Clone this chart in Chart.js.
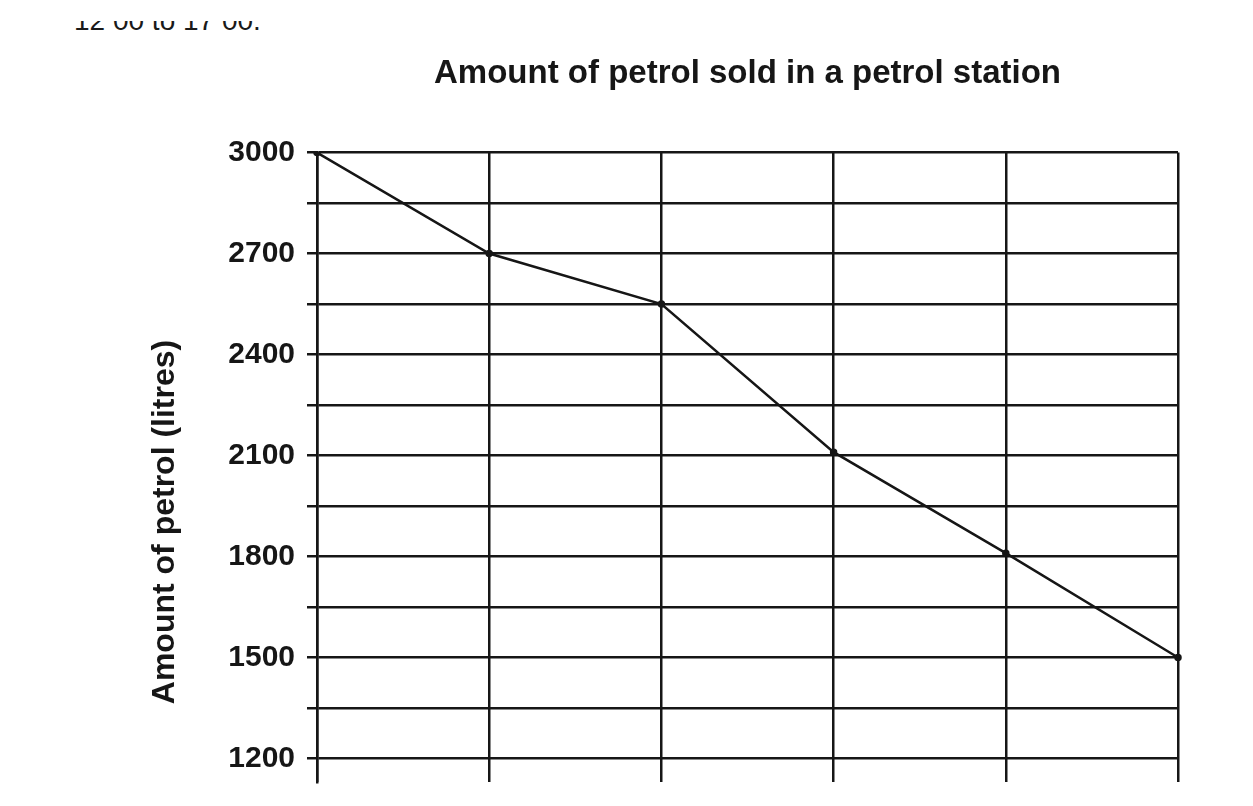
<!DOCTYPE html>
<html>
<head>
<meta charset="utf-8">
<title>Amount of petrol sold in a petrol station</title>
<script src="https://cdn.jsdelivr.net/npm/chart.js@4.4.1/dist/chart.umd.min.js"></script>
<style>
    html, body { margin: 0; padding: 0; background: #fff; overflow: hidden; }
    #wrap { position: relative; width: 1253px; height: 806px; }
    #chart { position: absolute; left: 0; top: 0; }
    /* the scan starts half way through this line of text */
    #cutLine { position: absolute; left: 74px; top: 21px; height: 11px; width: 260px; overflow: hidden; }
    #cutLine span { position: absolute; left: 0; top: -14px; font: 28px "Liberation Sans", Arial, sans-serif; line-height: 28px; color: #1a1a1a; white-space: pre; }
</style>
</head>
<body>
<div id="wrap">
    <div id="cutLine"><span>12 00 to 17 00.</span></div>
    <canvas id="chart" width="1253" height="806"></canvas>
</div>
<script>
// hours of the day (x categories)
const hours = ['12:00', '13:00', '14:00', '15:00', '16:00', '17:00'];
// litres of petrol left in the tank
const petrol = [3000, 2700, 2550, 2110, 1810, 1500];
// horizontal grid lines and the ones that carry a label
const gridValues = [1200, 1350, 1500, 1650, 1800, 1950, 2100, 2250, 2400, 2550, 2700, 2850, 3000];
const labelValues = [1200, 1500, 1800, 2100, 2400, 2700, 3000];

const chartTitle = 'Amount of petrol sold in a petrol station';
const yTitle = 'Amount of petrol (litres)';

const FONT = '"Liberation Sans", Arial, sans-serif';
const INK = '#161616';

// y axis title sits a little below the middle of the axis in the original
const yTitlePlugin = {
    id: 'yTitle',
    afterDraw(chart) {
        const ctx = chart.ctx;
        ctx.save();
        ctx.translate(165, 522);
        ctx.rotate(-Math.PI / 2);
        ctx.font = 'bold 32px ' + FONT;
        ctx.fillStyle = INK;
        ctx.textAlign = 'center';
        ctx.textBaseline = 'middle';
        ctx.fillText(yTitle, 0, 0);
        ctx.restore();
    }
};

new Chart(document.getElementById('chart'), {
    type: 'line',
    data: {
        labels: hours,
        datasets: [{
            label: 'Petrol',
            data: petrol,
            borderColor: INK,
            borderWidth: 2.5,
            backgroundColor: INK,
            pointRadius: 2.5,
            pointHoverRadius: 2.5,
            tension: 0,
            fill: false
        }]
    },
    options: {
        responsive: false,
        animation: false,
        devicePixelRatio: 1,
        layout: { padding: { left: 0, right: 75, top: 0, bottom: 0 } },
        plugins: {
            legend: { display: false },
            tooltip: { enabled: false },
            title: {
                display: true,
                // only as wide as the plot, so it is centred over the grid
                fullSize: false,
                text: chartTitle,
                color: INK,
                font: { family: FONT, size: 33, weight: 'bold' },
                padding: { top: 54, bottom: 59 }
            }
        },
        scales: {
            x: {
                offset: false,
                grid: { color: INK, lineWidth: 2.5, drawTicks: false, offset: false },
                border: { display: false },
                ticks: { display: false },
                afterFit(axis) { axis.height = 24; }
            },
            y: {
                min: 1130,
                max: 3000,
                grid: { color: INK, lineWidth: 2.5, tickLength: 10 },
                border: { color: INK, width: 2.5 },
                afterBuildTicks(axis) {
                    axis.ticks = gridValues.map(v => ({ value: v }));
                },
                ticks: {
                    padding: 12,
                    color: INK,
                    font: { family: FONT, size: 30, weight: 'bold' },
                    callback: v => labelValues.includes(v) ? String(v) : ''
                },
                afterFit(axis) {
                    axis.width = 317;
                    axis.paddingTop = 0;
                    axis.paddingBottom = 0;
                }
            }
        }
    },
    plugins: [yTitlePlugin]
});
</script>
</body>
</html>
